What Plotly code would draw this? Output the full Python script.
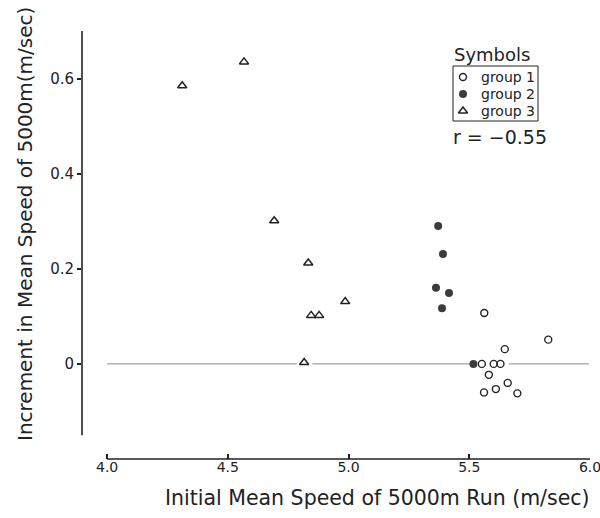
import plotly.graph_objects as go

# ---- data ----
g1_x = [5.562, 5.827, 5.647, 5.552, 5.601, 5.629, 5.581, 5.561, 5.610, 5.659, 5.699]
g1_y = [0.107, 0.051, 0.031, 0.000, 0.000, 0.000, -0.023, -0.060, -0.053, -0.040, -0.062]

g2_x = [5.371, 5.391, 5.362, 5.416, 5.387, 5.517]
g2_y = [0.290, 0.231, 0.160, 0.149, 0.117, 0.000]

g3_x = [4.311, 4.567, 4.692, 4.833, 4.986, 4.845, 4.878, 4.816]
g3_y = [0.585, 0.635, 0.301, 0.212, 0.131, 0.102, 0.102, 0.003]

group_names = ["group 1", "group 2", "group 3"]
x_ticks = [4.0, 4.5, 5.0, 5.5, 6.0]
x_ticktext = ["4.0", "4.5", "5.0", "5.5", "6.0"]
y_ticks = [0.0, 0.2, 0.4, 0.6]
y_ticktext = ["0", "0.2", "0.4", "0.6"]
r_text = "r = \u22120.55"

# zero reference line segments (broken where points sit on it)
zero_segments = [(4.0, 4.785), (4.85, 5.505), (5.665, 5.995)]

FONT = "DejaVu Sans"
INK = "#222222"

styles = [
    dict(symbol="circle-open", size=7, color=INK, line=dict(width=1.4, color=INK)),
    dict(symbol="circle", size=8, color="#3c3c3c", line=dict(width=0)),
    dict(symbol="triangle-up-open", size=8, color=INK, line=dict(width=1.5, color=INK)),
]

fig = go.Figure()
for xs, ys, nm, st in zip([g1_x, g2_x, g3_x], [g1_y, g2_y, g3_y], group_names, styles):
    fig.add_trace(go.Scatter(x=xs, y=ys, mode="markers", name=nm, marker=st,
                             showlegend=False))

# ---- hand-made legend (keys on an overlay axis spanning the plot area 0..1) ----
key_x = 0.7485
key_y = [0.8925, 0.8528, 0.8131]
for ky, nm, st in zip(key_y, group_names, styles):
    fig.add_trace(go.Scatter(x=[key_x], y=[ky], mode="markers", marker=st,
                             xaxis="x2", yaxis="y2", showlegend=False, hoverinfo="skip"))

shapes = []
for a, b in zero_segments:
    shapes.append(dict(type="line", xref="x", yref="y", x0=a, x1=b, y0=0, y1=0,
                       line=dict(color="#8a8a8a", width=1), layer="below"))
# y axis line (shorter than the plot area)
shapes.append(dict(type="line", xref="paper", yref="y", x0=0, x1=0, y0=-0.15, y1=0.7,
                   line=dict(color=INK, width=1.6)))
# x axis line (from 4.0 to 6.0)
shapes.append(dict(type="line", xref="x", yref="paper", x0=4.0, x1=6.0, y0=0, y1=0,
                   line=dict(color=INK, width=1.6)))
# legend box
shapes.append(dict(type="rect", xref="paper", yref="paper", x0=0.7289, x1=0.8959,
                   y0=0.7897, y1=0.9182, line=dict(color=INK, width=1)))

annotations = [
    dict(text="Initial Mean Speed of 5000m Run (m/sec)", xref="paper", yref="paper",
         x=0.5815, y=-0.091, xanchor="center", yanchor="middle", showarrow=False,
         font=dict(family=FONT, size=20.5, color=INK)),
    dict(text="Increment in Mean Speed of 5000m(m/sec)", xref="paper", yref="paper",
         x=-0.112, y=0.549, xanchor="center", yanchor="middle", textangle=-90,
         showarrow=False, font=dict(family=FONT, size=20, color=INK)),
    dict(text="Symbols", xref="paper", yref="paper", x=0.8055, y=0.944,
         xanchor="center", yanchor="middle",
         showarrow=False, font=dict(family=FONT, size=18, color=INK)),
    dict(text=r_text, xref="paper", yref="paper", x=0.8212, y=0.752,
         xanchor="center", yanchor="middle",
         showarrow=False, font=dict(family=FONT, size=19, color=INK)),
]
for ky, nm in zip(key_y, group_names):
    annotations.append(dict(text=nm, xref="paper", yref="paper", x=0.780, y=ky,
                            xanchor="left", yanchor="middle", showarrow=False,
                            font=dict(family=FONT, size=14, color=INK)))

fig.update_layout(
    width=600, height=518,
    margin=dict(l=82, r=9, t=31, b=59),
    paper_bgcolor="white", plot_bgcolor="white",
    font=dict(family=FONT, color=INK),
    shapes=shapes, annotations=annotations,
    showlegend=False,
    xaxis=dict(range=[3.896, 6.004], showgrid=False, zeroline=False, showline=False,
               automargin=False,
               tickvals=x_ticks, ticktext=x_ticktext, ticks="inside", ticklen=5,
               tickwidth=1.5, tickcolor=INK, ticklabelstandoff=-2,
               ticklabeloverflow="allow",
               tickfont=dict(family=FONT, size=14, color=INK)),
    yaxis=dict(range=[-0.2, 0.7], showgrid=False, zeroline=False, showline=False,
               automargin=False,
               tickvals=y_ticks, ticktext=y_ticktext, ticks="outside", ticklen=4,
               tickwidth=1.5, tickcolor=INK,
               tickfont=dict(family=FONT, size=15, color=INK)),
    xaxis2=dict(overlaying="x", range=[0, 1], visible=False, fixedrange=True),
    yaxis2=dict(overlaying="y", range=[0, 1], visible=False, fixedrange=True),
)

fig.write_html("out.html", config={"displayModeBar": False},
               post_script="document.body.style.margin='0';")
